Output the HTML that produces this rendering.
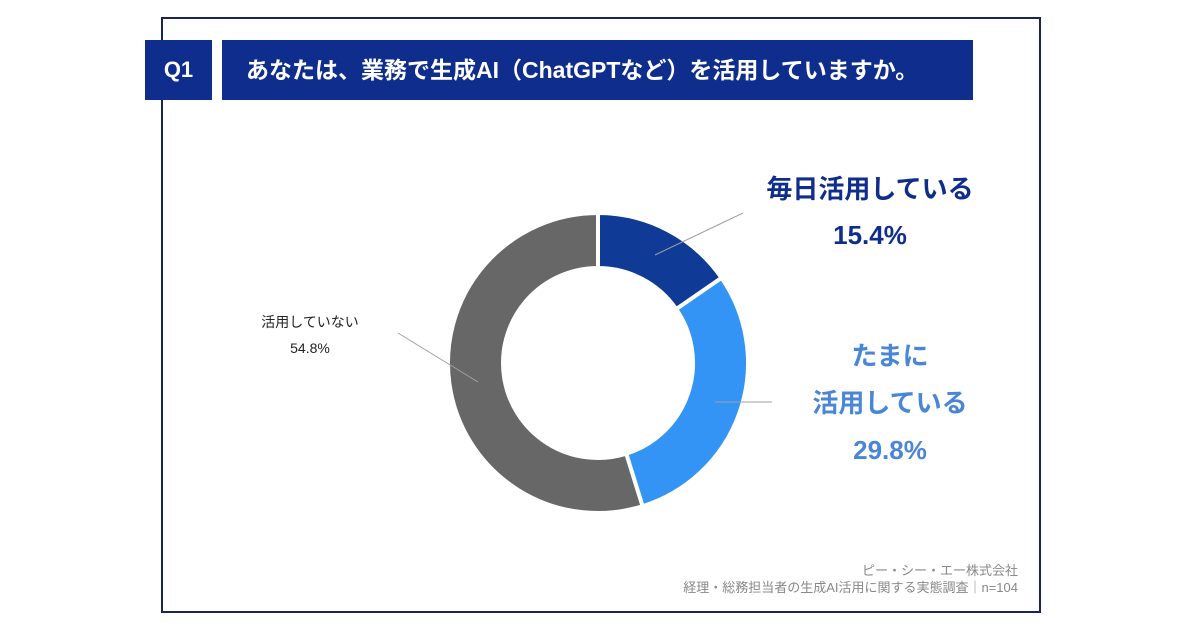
<!DOCTYPE html>
<html><head><meta charset="utf-8"><style>
body{margin:0;width:1200px;height:630px;background:#fff;position:relative;overflow:hidden;font-family:"Liberation Sans","Noto Sans CJK JP",sans-serif}
.abs{position:absolute}
</style></head><body>
<div class="abs" style="left:161px;top:17px;width:876px;height:592px;border:2px solid #1a2550"></div>
<div class="abs" style="left:145px;top:40px;width:67px;height:60px;background:#0f2d8c;color:#fff;font-weight:bold;font-size:22px;line-height:60px;text-align:center">Q1</div>
<div class="abs" style="left:222px;top:40px;width:751px;height:60px;background:#0f2d8c;color:#fff;font-weight:bold;font-size:23px;line-height:60px;padding-left:24px;box-sizing:border-box;white-space:nowrap">あなたは、業務で生成AI（ChatGPTなど）を活用していますか。</div>
<svg class="abs" style="left:0;top:0" width="1200" height="630">
<g id="slices"></g>
<line x1="655" y1="255" x2="743" y2="213" stroke="#a0a0a0" stroke-width="1"/>
<line x1="715" y1="402" x2="772" y2="402" stroke="#a0a0a0" stroke-width="1"/>
<line x1="478" y1="382" x2="398" y2="333" stroke="#a0a0a0" stroke-width="1"/>
</svg>
<div class="abs" style="left:730px;top:166px;width:280px;text-align:center;color:#0f2d8c;font-weight:bold;font-size:26px;line-height:46px">毎日活用している<br>15.4%</div>
<div class="abs" style="left:765px;top:333px;width:250px;text-align:center;color:#4a86d8;font-weight:bold;font-size:26px;line-height:47px">たまに<br>活用している<br>29.8%</div>
<div class="abs" style="left:250px;top:309px;width:120px;text-align:center;color:#222;font-size:14px;line-height:26px">活用していない<br>54.8%</div>
<div class="abs" style="left:600px;top:562px;width:418px;text-align:right;color:#888;font-size:13px;line-height:17px">ピー・シー・エー株式会社<br>経理・総務担当者の生成AI活用に関する実態調査｜n=104</div>
<script>
const categories=["毎日活用している","たまに活用している","活用していない"];
const values=[15.4,29.8,54.8];
const colors=["#0f3a96","#3394f5","#676767"];
const cx=598,cy=363,R=150,r=95;
const g=document.getElementById('slices');
const total=values.reduce((a,b)=>a+b,0);
let a0=0;
function pt(rad,ang){return [cx+rad*Math.sin(ang),cy-rad*Math.cos(ang)];}
values.forEach((v,i)=>{
  const a1=a0+v/total*2*Math.PI;
  const lg=(a1-a0)>Math.PI?1:0;
  const p1=pt(R,a0),p2=pt(R,a1),p3=pt(r,a1),p4=pt(r,a0);
  const p=document.createElementNS('http://www.w3.org/2000/svg','path');
  p.setAttribute('d',`M${p1}A${R},${R} 0 ${lg} 1 ${p2}L${p3}A${r},${r} 0 ${lg} 0 ${p4}Z`);
  p.setAttribute('fill',colors[i]);
  p.setAttribute('stroke','#fff');
  p.setAttribute('stroke-width','4');
  
  
  g.appendChild(p);
  a0=a1;
});
</script>
</body></html>
